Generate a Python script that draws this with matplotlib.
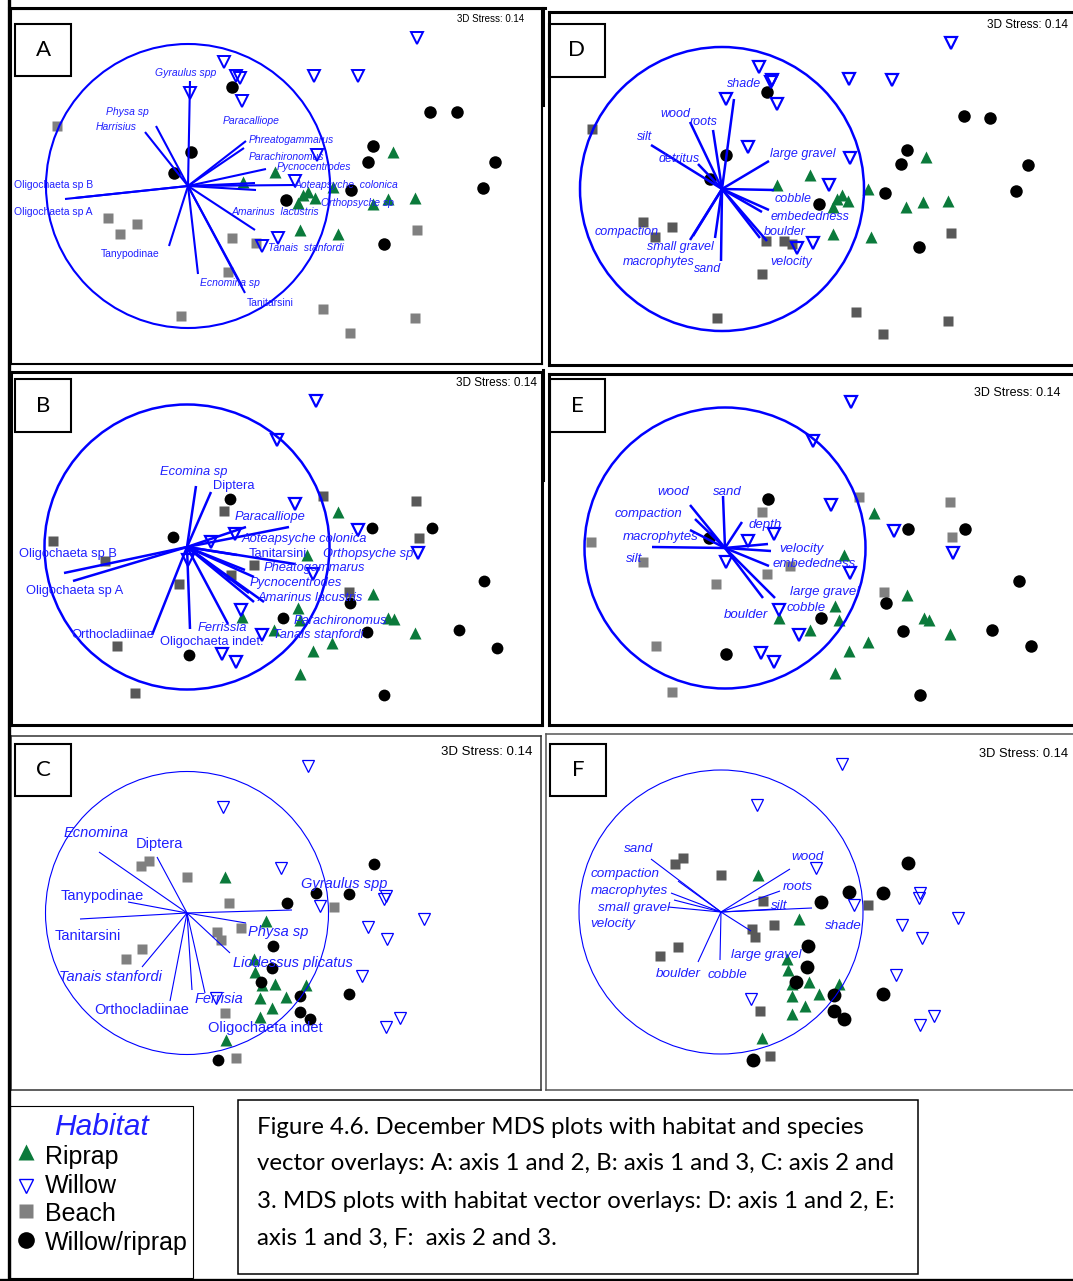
import matplotlib
matplotlib.use("Agg")
import matplotlib.pyplot as plt
from matplotlib.patches import Circle, Rectangle
from matplotlib.lines import Line2D

plt.rcParams['font.family'] = ['Liberation Sans', 'DejaVu Sans']

# site scores, read off the picture as offsets from the overlay circle centre
# (same units for every panel, overlay circle radius ~142)

# A: axis 1 vs 2, species vectors
a_riprap = [(205, 34), (87, 14), (55, 4), (120, -6), (115, -9), (127, -12), (110, -17),
            (145, -1), (185, -18), (200, -13), (227, -12), (112, -44), (150, -48)]
a_willow = [(36, 124), (48, 110), (52, 108), (54, 85), (2, 93), (126, 110), (170, 110),
            (229, 148), (129, 31), (107, 5), (90, -52), (74, -60)]
a_beach = [(-131, 60), (-80, -32), (-51, -38), (-68, -48), (44, -52), (68, -57), (40, -86),
           (-7, -130), (135, -123), (162, -147), (227, -132), (229, -44)]
a_wr = [(44, 99), (3, 34), (-14, 13), (242, 74), (269, 74), (185, 40), (180, 24), (307, 24),
        (163, -4), (295, -2), (98, -14), (196, -58)]
a_names = ["Gyraulus spp", "Physa sp", "Harrisius", "Paracalliope", "Phreatogammarus",
           "Parachironomus", "Pycnocentrodes", "Aoteapsyche  colonica", "Orthopsyche sp",
           "Amarinus  lacustris", "Tanais  stanfordi", "Tanitarsini", "Ecnomina sp",
           "Tanypodinae", "Oligochaeta sp B", "Oligochaeta sp A"]
a_vectors = [(2, 105), (-32, 60), (-43, 54), (67, 3), (58, 45), (56, 38), (78, 17), (107, 1),
             (68, -4), (67, -44), (57, -107), (54, -100), (10, -88), (-19, -60), (-123, -13),
             (-113, -12)]

# D: axis 1 vs 2, habitat vectors
d_riprap = [(204, 32), (88, 14), (55, 4), (120, -6), (115, -10), (126, -12), (111, -18),
            (146, 0), (184, -18), (201, -13), (226, -12), (111, -45), (149, -48)]
d_willow = [(37, 122), (50, 109), (49, 107), (4, 90), (55, 85), (26, 42), (127, 110),
            (170, 109), (229, 146), (128, 31), (107, 4), (91, -54), (75, -59)]
d_beach = [(-130, 60), (-79, -33), (-50, -38), (-67, -48), (44, -52), (62, -52), (70, -55),
           (40, -85), (-5, -129), (134, -123), (161, -145), (226, -132), (229, -44)]
d_wr = [(45, 97), (4, 34), (-12, 10), (242, 73), (268, 71), (185, 39), (179, 25), (306, 24),
        (163, -4), (294, -2), (97, -15), (197, -58)]
d_names = ["shade", "wood", "roots", "silt", "detritus", "large gravel", "cobble",
           "embededness", "", "boulder", "velocity", "sand", "small gravel", "macrophytes",
           "compaction"]
d_vectors = [(12, 90), (-32, 67), (-9, 59), (-71, 44), (-24, 25), (47, 28), (52, -1),
             (47, -21), (40, -23), (45, -52), (38, -49), (-1, -72), (-7, -49), (-32, -51),
             (-29, -47)]

# B: axis 1 vs 3, species vectors
b_riprap = [(151, 35), (120, -8), (186, -47), (111, -61), (55, -70), (113, -73), (201, -71),
            (207, -72), (87, -83), (228, -86), (145, -96), (126, -104), (113, -127)]
b_willow = [(129, 146), (90, 107), (108, 43), (171, 17), (231, -6), (48, 13), (24, 5),
            (1, -13), (126, -27), (54, -63), (75, -88), (35, -107), (49, -115)]
b_beach = [(-134, 6), (-82, -14), (-8, -37), (37, 36), (136, 51), (229, 46), (232, 9),
           (67, -18), (44, -28), (162, -45), (-70, -99), (-52, -146)]
b_wr = [(43, 48), (-14, 10), (185, 19), (245, 19), (297, -34), (163, -56), (96, -71),
        (180, -85), (272, -83), (310, -101), (2, -108), (197, -148)]
b_names = ["Ecomina sp", "Diptera", "Paracalliope", "Aoteapsyche colonica", "Tanitarsini",
           "Orthopsyche sp", "Pheatogammarus", "Pycnocentrodes", "Amarinus lacustris",
           "Parachironomus", "Tanais stanfordi", "Ferrissia", "Oligochaeta indet.",
           "Orthocladiinae", "Oligochaeta sp B", "Oligochaeta sp A"]
b_vectors = [(9, 61), (24, 55), (59, 20), (102, 20), (108, -17), (50, -8), (58, -23),
             (67, -30), (77, -55), (67, -55), (62, -46), (41, -77), (3, -82), (-35, -88),
             (-123, -26), (-114, -34)]

# E: axis 1 vs 3, habitat vectors
e_riprap = [(149, 35), (119, -7), (182, -47), (110, -58), (54, -70), (114, -72), (199, -70),
            (204, -72), (85, -82), (225, -86), (143, -94), (124, -103), (110, -125)]
e_willow = [(126, 146), (88, 107), (106, 43), (169, 17), (228, -5), (49, 14), (23, 7),
            (1, -14), (125, -25), (54, -62), (74, -87), (36, -105), (49, -114)]
e_beach = [(-134, 6), (-82, -14), (-9, -36), (37, 36), (134, 51), (225, 46), (227, 11),
           (65, -18), (42, -26), (159, -44), (-69, -98), (-53, -144)]
e_wr = [(43, 49), (-16, 10), (183, 19), (240, 19), (294, -33), (161, -55), (96, -70),
        (178, -83), (267, -82), (306, -98), (1, -106), (195, -147)]
e_names = ["sand", "wood", "compaction", "macrophytes", "silt", "depth", "velocity",
           "large gravel", "embededness", "cobble", "boulder"]
e_vectors = [(-2, 52), (-35, 43), (-30, 29), (-35, 18), (-73, 1), (17, 26), (43, 4),
             (46, -3), (44, -18), (50, -50), (38, -50)]

# C: axis 2 vs 3, species vectors
c_riprap = [(38, 36), (79, -8), (67, -46), (68, -59), (75, -72), (88, -71), (119, -72),
            (73, -85), (99, -84), (85, -95), (73, -104), (39, -127)]
c_willow = [(121, 147), (36, 106), (94, 45), (133, 7), (199, 17), (197, 14), (237, -6),
            (181, -14), (200, -26), (175, -63), (213, -105), (199, -114), (29, -85)]
c_beach = [(-46, 47), (-38, 52), (0, 36), (42, 10), (147, 6), (54, -15), (30, -19), (34, -27),
           (-45, -36), (-61, -46), (38, -100), (49, -145)]
c_wr = [(187, 49), (129, 20), (162, 19), (100, 10), (86, -33), (85, -55), (74, -69),
        (113, -83), (162, -81), (113, -99), (123, -106), (31, -147)]
c_names = ["Ecnomina", "Diptera", "Tanypodinae", "Tanitarsini", "Tanais stanfordi",
           "Orthocladiinae", "Ferrisia", "Oligochaeta indet", "Liodessus plicatus",
           "Physa sp", "Gyraulus spp"]
c_vectors = [(-88, 61), (-30, 56), (-59, 11), (-107, -6), (-45, -54), (-17, -88), (18, -80),
             (5, -77), (43, -40), (59, -10), (105, 3)]

# F: axis 2 vs 3, habitat vectors
f_riprap = [(37, 37), (78, -7), (66, -47), (67, -58), (71, -72), (88, -70), (118, -72),
            (71, -84), (98, -82), (84, -94), (71, -102), (41, -126)]
f_willow = [(121, 148), (36, 107), (95, 44), (133, 7), (199, 19), (198, 14), (237, -6),
            (181, -13), (201, -26), (175, -63), (213, -104), (199, -113), (30, -87)]
f_beach = [(-46, 48), (-38, 54), (0, 37), (42, 11), (147, 7), (53, -13), (31, -17), (34, -25),
           (-43, -35), (-61, -44), (39, -99), (49, -144)]
f_wr = [(187, 49), (128, 20), (162, 19), (100, 10), (87, -34), (86, -55), (75, -70),
        (113, -83), (162, -82), (113, -99), (123, -107), (32, -148)]
f_names = ["sand", "wood", "compaction", "macrophytes", "roots", "small gravel", "velocity",
           "silt", "shade", "large gravel", "boulder", "cobble"]
f_vectors = [(-70, 53), (69, 43), (-43, 31), (-50, 19), (59, 21), (-47, 12), (-53, 5),
             (91, 4), (55, 3), (30, -19), (-23, -50), (-1, -48)]

stress_text = "3D Stress: 0.14"
legend_labels = ["Riprap", "Willow", "Beach", "Willow/riprap"]
caption_lines = [
    "Figure 4.6. December MDS plots with habitat and species",
    "vector overlays: A: axis 1 and 2, B: axis 1 and 3, C: axis 2 and",
    "3. MDS plots with habitat vector overlays: D: axis 1 and 2, E:",
    "axis 1 and 3, F:  axis 2 and 3.",
]

# ---------------------------------------------------------------------------
W, H = 1073, 1281
BLUE = '#0000FF'
TXT = '#2020FF'
GREEN = '#0B7A3B'

fig = plt.figure(figsize=(W / 100, H / 100), dpi=100)


def fx(x):
    return x / W


def fy(y):
    return 1 - y / H


def px_axes(l, t, r, b):
    return fig.add_axes([fx(l), fy(b), (r - l) / W, (b - t) / H])


def fig_rect(x0, y0, x1, y1, lw, col='black'):
    fig.patches.append(Rectangle((fx(x0), fy(y1)), (x1 - x0) / W, (y1 - y0) / H,
                                 transform=fig.transFigure, fill=False, lw=lw, ec=col))


def fig_line(xs, ys, lw, col='black'):
    fig.lines.append(Line2D([fx(x) for x in xs], [fy(y) for y in ys],
                            transform=fig.transFigure, lw=lw, color=col))


def draw_panel(frame, centre, radius, sites, names, vectors, labels, st):
    l, t, r, b = frame
    cx, cy = centre
    ax = px_axes(l, t, r, b)
    ax.set_xlim(l - cx, r - cx)
    ax.set_ylim(cy - b, cy - t)
    ax.set_xticks([])
    ax.set_yticks([])
    for s in ax.spines.values():
        s.set_linewidth(st['spine_lw'])
        s.set_color(st['spine_col'])
    riprap, willow, beach, wr = sites
    x, y = zip(*beach)
    ax.plot(x, y, 's', ms=st['ms_beach'], color=st['grey'], mec='none', zorder=2)
    x, y = zip(*riprap)
    ax.plot(x, y, '^', ms=st['ms_riprap'], color=GREEN, mec='none', zorder=2)
    x, y = zip(*wr)
    ax.plot(x, y, 'o', ms=st['ms_wr'], color='black', mec='none', zorder=2)
    x, y = zip(*willow)
    ax.plot(x, y, 'v', ms=st['ms_willow'], mfc='none', mec=BLUE, mew=st['mew'], zorder=3)
    ax.add_patch(Circle((0, 0), radius, fill=False, ec=BLUE, lw=st['vec_lw'], zorder=4))
    for ex, ey in vectors:
        ax.plot([0, ex], [0, ey], color=BLUE, lw=st['vec_lw'], solid_capstyle='butt', zorder=4)
    for name, (tx, ty, ha, it) in zip(names, labels):
        if name:
            ax.text(tx, ty, name, ha=ha, va='center', color=TXT, fontsize=st['fs'],
                    style='italic' if it else 'normal', zorder=5)
    return ax


thick = dict(spine_lw=2.2, spine_col='black', vec_lw=1.8, mew=1.6, ms_willow=8.5,
             ms_wr=9, ms_riprap=8, ms_beach=7, grey='#595959', fs=9)
thin = dict(spine_lw=1.1, spine_col='#333333', vec_lw=0.8, mew=0.9, ms_willow=8.5,
            ms_wr=8.5, ms_riprap=8.5, ms_beach=7, grey='#808080', fs=10.5)

# label placement: (x, y, ha, italic)
a_lab = [(-2, 113, 'center', 1), (-61, 74, 'center', 1), (-72, 59, 'center', 1),
         (63, 65, 'center', 1), (61, 46, 'left', 1), (61, 29, 'left', 1), (89, 19, 'left', 1),
         (107, 1, 'left', 1), (133, -17, 'left', 1), (44, -26, 'left', 1),
         (80, -62, 'left', 1), (59, -117, 'left', 0), (12, -97, 'left', 1),
         (-58, -68, 'center', 0), (-174, 1, 'left', 0), (-174, -26, 'left', 0)]
d_lab = [(22, 105, 'center', 1), (-47, 75, 'center', 1), (-18, 67, 'center', 1),
         (-77, 52, 'center', 1), (-43, 30, 'center', 1), (48, 35, 'left', 1),
         (53, -10, 'left', 1), (49, -28, 'left', 1), (0, 0, 'left', 1), (42, -43, 'left', 1),
         (48, -73, 'left', 1), (-14, -80, 'center', 1), (-42, -58, 'center', 1),
         (-63, -73, 'center', 1), (-95, -43, 'center', 1)]
b_lab = [(7, 75, 'center', 1), (26, 61, 'left', 0), (48, 30, 'left', 1), (55, 8, 'left', 1),
         (62, -7, 'left', 0), (136, -7, 'left', 1), (77, -21, 'left', 1), (63, -36, 'left', 1),
         (71, -51, 'left', 1), (107, -74, 'left', 1), (86, -88, 'left', 1),
         (11, -81, 'left', 1), (-27, -95, 'left', 0), (-116, -88, 'left', 0),
         (-168, -7, 'left', 0), (-161, -44, 'left', 0)]
e_lab = [(2, 56, 'center', 1), (-52, 56, 'center', 1), (-77, 34, 'center', 1),
         (-64, 11, 'center', 1), (-91, -11, 'center', 1), (40, 23, 'center', 1),
         (54, -1, 'left', 1), (65, -44, 'left', 1), (48, -16, 'left', 1), (62, -60, 'left', 1),
         (21, -67, 'center', 1)]
c_lab = [(-91, 80, 'center', 1), (-28, 69, 'center', 0), (-85, 17, 'center', 0),
         (-99, -23, 'center', 0), (-77, -64, 'center', 1), (-45, -97, 'center', 0),
         (32, -86, 'center', 1), (78, -115, 'center', 0), (106, -50, 'center', 1),
         (91, -19, 'center', 1), (157, 29, 'center', 1)]
f_lab = [(-82, 63, 'center', 1), (86, 55, 'center', 1), (-96, 38, 'center', 1),
         (-92, 21, 'center', 1), (77, 25, 'center', 1), (-87, 4, 'center', 1),
         (-108, -12, 'center', 1), (58, 6, 'center', 1), (122, -14, 'center', 1),
         (45, -43, 'center', 1), (-43, -62, 'center', 1), (6, -63, 'center', 1)]

panels = [
    # letter, frame (l, t, r, b), centre, radius, sites, names, vectors, labels, style,
    # letter box, stress text (x, y, ha, size)
    ('A', (11, 9, 542, 364), (188, 186), 142, (a_riprap, a_willow, a_beach, a_wr),
     a_names, a_vectors, a_lab,
     dict(thick, spine_lw=1.5, vec_lw=1.5, mew=1.4, ms_willow=8, grey='#808080', fs=7.5),
     (15, 24, 71, 76), (524, 19, 'right', 7)),
    ('D', (549, 12, 1076, 365), (722, 189), 142, (d_riprap, d_willow, d_beach, d_wr),
     d_names, d_vectors, d_lab, thick, (549, 24, 605, 77), (987, 25, 'left', 8.5)),
    ('B', (11, 372, 542, 725), (187, 547), 142.5, (b_riprap, b_willow, b_beach, b_wr),
     b_names, b_vectors, b_lab, dict(thick, fs=9.3, ms_wr=8.5),
     (15, 379, 71, 432), (537, 383, 'right', 8.5)),
    ('E', (549, 374, 1076, 725), (725, 548), 140.5, (e_riprap, e_willow, e_beach, e_wr),
     e_names, e_vectors, e_lab, dict(thick, fs=9.5, ms_wr=9, ms_beach=7.5, grey='#808080'),
     (550, 379, 605, 432), (1061, 393, 'right', 9)),
    ('C', (11, 736, 541, 1090), (187, 913), 141.5, (c_riprap, c_willow, c_beach, c_wr),
     c_names, c_vectors, c_lab, thin, (15, 744, 71, 796), (532, 752, 'right', 9.5)),
    ('F', (546, 734, 1076, 1090), (721, 912), 142, (f_riprap, f_willow, f_beach, f_wr),
     f_names, f_vectors, f_lab,
     dict(thin, spine_col='#555555', ms_wr=10, ms_riprap=8, ms_beach=7.5, grey='#595959',
          fs=9.7),
     (550, 744, 606, 796), (1068, 754, 'right', 9.3)),
]

for letter, frame, centre, rad, sites, names, vecs, labs, st, box, stress in panels:
    draw_panel(frame, centre, rad, sites, names, vecs, labs, st)
    fig_rect(*box, lw=1.5)
    fig.text(fx((box[0] + box[2]) / 2), fy((box[1] + box[3]) / 2), letter, ha='center',
             va='center', fontsize=16, family=['Lato', 'DejaVu Sans'])
    sx, sy, sha, ssz = stress
    fig.text(fx(sx), fy(sy), stress_text, ha=sha, va='center', fontsize=ssz)

# outer page borders
fig_line([9, 9], [0, H], lw=2.4)
fig_line([0, W], [1279.5, 1279.5], lw=2.4)
fig_line([9, 545], [8, 8], lw=2.2)
fig_line([543, 543], [8, 105], lw=2.2)
fig_line([543, 543], [370, 480], lw=2.2)

# legend box
fig_rect(10, 1106, 193, 1278, lw=0.8)
lax = px_axes(10, 1106, 193, 1278)
lax.set_xlim(10, 193)
lax.set_ylim(1278, 1106)
lax.axis('off')
lax.text(101, 1127, 'Habitat', ha='center', va='center', fontsize=21.5, style='italic',
         color=TXT)
legend_markers = [dict(marker='^', ms=12, color=GREEN, mec='none'),
                  dict(marker='v', ms=10, mfc='none', mec=BLUE, mew=1),
                  dict(marker='s', ms=10, color='#808080', mec='none'),
                  dict(marker='o', ms=12, color='black', mec='none')]
marker_rows = [1152, 1186, 1211, 1240]
text_rows = [1157, 1186, 1214, 1243]
for lab, mk, my, ty in zip(legend_labels, legend_markers, marker_rows, text_rows):
    lax.plot([26], [my], linestyle='none', **mk)
    lax.text(45, ty, lab, ha='left', va='center', fontsize=18)

# caption box
fig_rect(238, 1100, 918, 1274, lw=1.1)
for i, line in enumerate(caption_lines):
    fig.text(fx(257), fy(1127 + i * 37), line, ha='left', va='center', fontsize=17.3,
             family=['Lato', 'DejaVu Sans'])

fig.savefig('out.png', dpi=100)
